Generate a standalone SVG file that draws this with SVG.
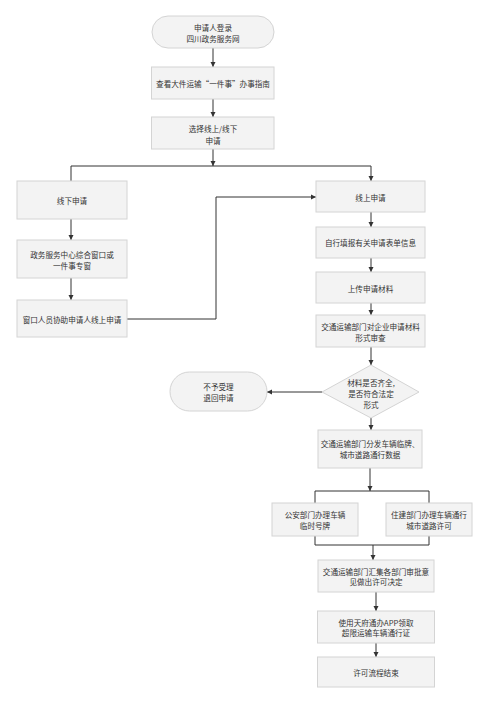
<svg xmlns="http://www.w3.org/2000/svg" width="502" height="722" viewBox="0 0 502 722">
<style>
.box{fill:#f3f3f3;stroke:#d4d4d4;stroke-width:1}
.t{font-family:"Noto Sans CJK SC","Liberation Sans",sans-serif;font-size:7.6px;fill:#333;text-anchor:middle;dominant-baseline:central}
.ln{fill:none;stroke:#333;stroke-width:1}
.ar{fill:none;stroke:#333;stroke-width:1;marker-end:url(#ah)}
</style>
<defs>
<marker id="ah" markerWidth="6" markerHeight="6" refX="5" refY="3" orient="auto" markerUnits="userSpaceOnUse">
<path d="M0,0.5 L5,3 L0,5.5 Z" fill="#333"/>
</marker>
</defs>
<rect width="502" height="722" fill="#fff"/>
<g id="connectors">
<path class="ar" d="M213,48 V67"/>
<path class="ar" d="M213,99 V117"/>
<path class="ar" d="M213,149 V166"/>
<path class="ln" d="M71,181 V166 H371"/>
<path class="ar" d="M371,166 V181"/>
<path class="ar" d="M71,219 V240"/>
<path class="ar" d="M71,278 V300"/>
<path class="ar" d="M127,319 H216 V197 H316"/>
<path class="ar" d="M371,212 V227"/>
<path class="ar" d="M371,258 V272"/>
<path class="ar" d="M371,303 V315"/>
<path class="ar" d="M371,347 V365"/>
<path class="ar" d="M322,392 H267"/>
<path class="ar" d="M371,418 V430"/>
<path class="ar" d="M370,468 V491"/>
<path class="ln" d="M315,503 V491 H429 V503"/>
<path class="ln" d="M315,536 V545 H429 V536"/>
<path class="ar" d="M373,545 V560"/>
<path class="ar" d="M376,592 V611"/>
<path class="ar" d="M376,643 V657"/>
</g>
<g id="start"><rect class="box" x="152" y="16" width="122" height="32" rx="16"/><text class="t" x="213" y="27">申请人登录</text><text class="t" x="213" y="38">四川政务服务网</text></g>
<g id="guide"><rect class="box" x="151.5" y="67" width="122.5" height="32"/><text class="t" x="213" y="83">查看大件运输“一件事”办事指南</text></g>
<g id="choose"><rect class="box" x="151.5" y="117" width="122.5" height="32"/><text class="t" x="213" y="128">选择线上/线下</text><text class="t" x="213" y="140">申请</text></g>
<g id="offline"><rect class="box" x="17" y="181" width="110" height="38"/><text class="t" x="72" y="200">线下申请</text></g>
<g id="window"><rect class="box" x="17" y="240" width="110" height="38"/><text class="t" x="72" y="254">政务服务中心综合窗口或</text><text class="t" x="72" y="265">一件事专窗</text></g>
<g id="assist"><rect class="box" x="17" y="300" width="110" height="37"/><text class="t" x="72" y="319">窗口人员协助申请人线上申请</text></g>
<g id="online"><rect class="box" x="316" y="181" width="109" height="31"/><text class="t" x="370.5" y="197">线上申请</text></g>
<g id="fill"><rect class="box" x="316" y="227" width="109" height="31"/><text class="t" x="370.5" y="242">自行填报有关申请表单信息</text></g>
<g id="upload"><rect class="box" x="316" y="272" width="109" height="31"/><text class="t" x="370.5" y="288">上传申请材料</text></g>
<g id="review"><rect class="box" x="316" y="315" width="109" height="32"/><text class="t" x="370.5" y="326">交通运输部门对企业申请材料</text><text class="t" x="370.5" y="337">形式审查</text></g>
<g id="decision"><polygon class="box" points="371,365 419,392 371,418 322,392"/><text class="t" x="371" y="382">材料是否齐全,</text><text class="t" x="371" y="393">是否符合法定</text><text class="t" x="371" y="404">形式</text></g>
<g id="reject"><rect class="box" x="170" y="372" width="97" height="39" rx="19.5"/><text class="t" x="218.5" y="386">不予受理</text><text class="t" x="218.5" y="397">退回申请</text></g>
<g id="distribute"><rect class="box" x="318" y="430" width="104" height="38"/><text class="t" x="370" y="443">交通运输部门分发车辆临牌、</text><text class="t" x="370" y="454">城市道路通行数据</text></g>
<g id="police"><rect class="box" x="272" y="503" width="86" height="33"/><text class="t" x="315" y="514">公安部门办理车辆</text><text class="t" x="315" y="525">临时号牌</text></g>
<g id="housing"><rect class="box" x="386" y="503" width="86" height="33"/><text class="t" x="429" y="514">住建部门办理车辆通行</text><text class="t" x="429" y="525">城市道路许可</text></g>
<g id="summary"><rect class="box" x="318" y="560" width="116" height="32"/><text class="t" x="376" y="571">交通运输部门汇集各部门审批意</text><text class="t" x="376" y="581">见做出许可决定</text></g>
<g id="app"><rect class="box" x="317.5" y="611" width="117" height="32"/><text class="t" x="376" y="622">使用天府通办APP领取</text><text class="t" x="376" y="632">超限运输车辆通行证</text></g>
<g id="end"><rect class="box" x="317.5" y="657" width="117" height="30"/><text class="t" x="376" y="672">许可流程结束</text></g>
</svg>
